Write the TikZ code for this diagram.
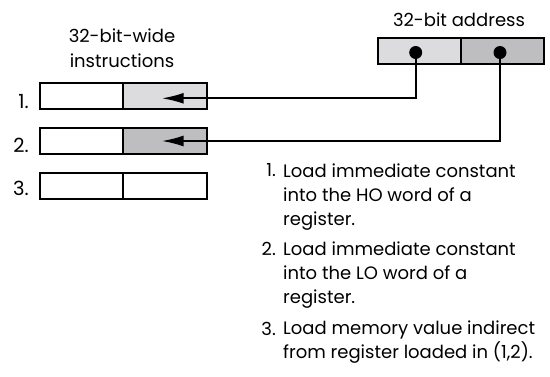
\documentclass[tikz,border=0pt]{standalone}
\usepackage{fontspec}
\setmainfont{Poppins}
\usetikzlibrary{arrows.meta}
\definecolor{hogray}{RGB}{220,220,222}
\definecolor{logray}{RGB}{190,190,192}
\begin{document}
\begin{tikzpicture}[x=1pt,y=-1pt,
  cell/.style={draw=black,line width=2pt,minimum width=83.5pt,minimum height=26.5pt,inner sep=0pt,outer sep=0pt},
  acell/.style={draw=black,line width=2pt,minimum width=83.3pt,minimum height=25.7pt,inner sep=0pt,outer sep=0pt},
  dot/.style={circle,fill=black,minimum size=13pt,inner sep=0pt},
  wire/.style={line width=2pt},
  arr/.style={wire,-{Latex[length=22pt,width=11pt]}},
  lbl/.style={font=\fontsize{18}{24}\selectfont,inner sep=0pt},
  num/.style={font=\fontsize{19.5}{24}\selectfont,inner sep=0pt,anchor=base east},
  txt/.style={font=\fontsize{18}{24}\selectfont,inner sep=0pt,align=left,anchor=base west}]
\useasboundingbox (0,0) rectangle (550,376);
% instruction boxes
\node[cell] (i1l) at (81.25,95.75) {};
\node[cell,fill=hogray] (i1r) at (164.75,95.75) {};
\node[cell] (i2l) at (81.25,140.75) {};
\node[cell,fill=logray] (i2r) at (164.75,140.75) {};
\node[cell] (i3l) at (81.25,185.75) {};
\node[cell] (i3r) at (164.75,185.75) {};
\node[lbl,anchor=base] (ta) at (122,42) {32-bit-wide};
\node[lbl,anchor=base] (tb) at (122,67) {instructions};
\node[num] (n1) at (29,108) {1.};
\node[num] (n2) at (29,152.7) {2.};
\node[num] (n3) at (29,195.5) {3.};
% address
\node[acell,fill=hogray] (ahi) at (419.35,51.15) {};
\node[acell,fill=logray] (alo) at (502.65,51.15) {};
\node[lbl,anchor=base] (at) at (459,26) {32-bit address};
\node[dot] (d1) at (415.7,52.5) {};
\node[dot] (d2) at (500,52.5) {};
\coordinate (t1) at (161.7,98.3);
\coordinate (t2) at (161.7,141);
\draw[arr] (d1.center) |- (t1);
\draw[arr] (d2.center) |- (t2);
% list
\node[txt,anchor=base east] (m1) at (276,176.7) {1.};
\node[txt] (l1) at (283,225) {Load immediate constant\\into the HO word of a\\register.};
\node[txt,anchor=base east] (m2) at (276,255) {2.};
\node[txt] (l2) at (283,303.3) {Load immediate constant\\into the LO word of a\\register.};
\node[txt,anchor=base east] (m3) at (276,335) {3.};
\node[txt] (l3) at (283,358.3) {Load memory value indirect\\from register loaded in (1,2).};
\end{tikzpicture}
\end{document}
